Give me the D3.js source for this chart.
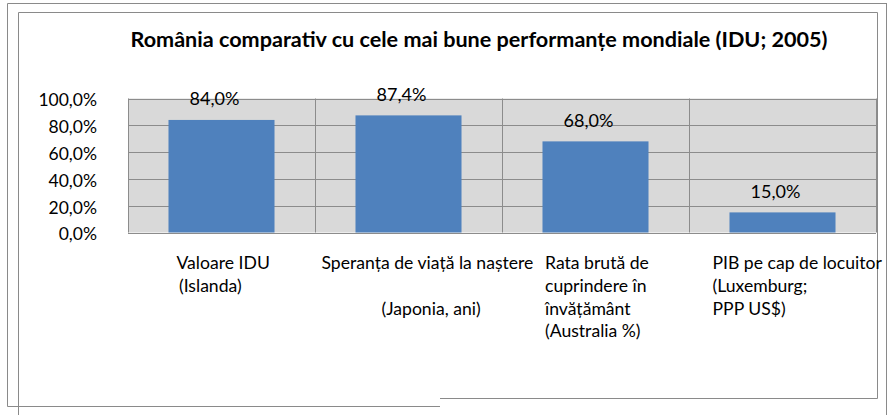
<!DOCTYPE html>
<html>
<head>
<meta charset="utf-8">
<script src="https://cdn.jsdelivr.net/npm/d3@7"></script>
<style>
  body { margin: 0; background: #fff; }
  svg { display: block; font-family: Lato, 'Open Sans', sans-serif; }
</style>
</head>
<body>
<svg id="chart" width="887" height="415"></svg>
<script>
// data
const title = 'România comparativ cu cele mai bune performanțe mondiale (IDU; 2005)';
const categories = [
  ['Valoare IDU', '(Islanda)'],
  ['Speranța de viață la naștere', '', '(Japonia, ani)'],
  ['Rata brută de', 'cuprindere în', 'învățământ', '(Australia %)'],
  ['PIB pe cap de locuitor', '(Luxemburg;', 'PPP US$)']
];
const values = [84.0, 87.4, 68.0, 15.0];
const yTicks = [0, 20, 40, 60, 80, 100];

// layout (px)
const plot = { left: 128, right: 876, top: 98.5, bottom: 232.5 };
const labelLeft = [48.5, 6.5, 43, 23.5];           // text block start inside each band
const lineIndent = [[0, 2.5], [0, 0, 60], [0, 0, 0, 0], [0, 0, 0]];
const valueShift = [-7, -7, -7, -7];

const fmt = v => d3.format('.1f')(v).replace('.', ',') + '%';

const svg = d3.select('#chart');

// page / chart frames
const frame = svg.append('g').attr('fill', 'none').attr('stroke', '#8a8a8a');
frame.append('path').attr('d', 'M7.5,406.5 V3.5 H887 M886.5,3.5 V415');
frame.append('path').attr('d', 'M7.5,406.5 H440');
frame.append('path').attr('d', 'M18.5,415 V12.5 H877.5 V398.5 H440');

const x = d3.scaleBand()
  .domain(d3.range(values.length))
  .range([plot.left, plot.right]);

const y = d3.scaleLinear()
  .domain([0, 100])
  .range([plot.bottom, plot.top]);

// plot background
svg.append('rect')
  .attr('x', plot.left)
  .attr('y', plot.top)
  .attr('width', plot.right - plot.left)
  .attr('height', plot.bottom - plot.top)
  .attr('fill', '#d9d9d9');

// horizontal gridlines
svg.append('g')
  .selectAll('line')
  .data(yTicks)
  .enter()
  .append('line')
  .attr('x1', plot.left)
  .attr('x2', plot.right)
  .attr('y1', d => Math.round(y(d)) + 0.5)
  .attr('y2', d => Math.round(y(d)) + 0.5)
  .attr('stroke', '#8c8c8c');

// vertical gridlines between categories
svg.append('g')
  .selectAll('line')
  .data(d3.range(values.length + 1))
  .enter()
  .append('line')
  .attr('x1', i => Math.round(plot.left + i * x.bandwidth()) + 0.5)
  .attr('x2', i => Math.round(plot.left + i * x.bandwidth()) + 0.5)
  .attr('y1', plot.top)
  .attr('y2', plot.bottom)
  .attr('stroke', '#8c8c8c');

// bars
const barW = x.bandwidth() * 0.567;
svg.append('g')
  .selectAll('rect')
  .data(values)
  .enter()
  .append('rect')
  .attr('x', (d, i) => x(i) + (x.bandwidth() - barW) / 2)
  .attr('y', d => y(d))
  .attr('width', barW)
  .attr('height', d => y(0) - y(d))
  .attr('fill', '#4f81bd');

// value labels
svg.append('g')
  .selectAll('text')
  .data(values)
  .enter()
  .append('text')
  .attr('x', (d, i) => x(i) + x.bandwidth() / 2 + valueShift[i])
  .attr('y', d => y(d) - 14.5)
  .attr('text-anchor', 'middle')
  .style('font-size', '18px')
  .text(fmt);

// y axis
const yAxis = svg.append('g')
  .attr('transform', `translate(${plot.left},0)`)
  .call(d3.axisLeft(y).tickValues(yTicks).tickSize(0).tickPadding(31).tickFormat(fmt));
yAxis.select('.domain').remove();
yAxis.selectAll('text')
  .attr('dy', '0.42em')
  .attr('fill', '#000')
  .style('font-size', '17.5px')
  .style('font-family', 'Lato, sans-serif');

// category labels
const cats = svg.append('g')
  .selectAll('text')
  .data(categories)
  .enter()
  .append('text')
  .style('font-size', '17.6px');

cats.each(function (lines, i) {
  const t = d3.select(this);
  lines.forEach((line, j) => {
    t.append('tspan')
      .attr('x', x(i) + labelLeft[i] + lineIndent[i][j])
      .attr('y', 269 + j * 22.8)
      .text(line);
  });
});

// title
svg.append('text')
  .attr('x', 479)
  .attr('y', 46.5)
  .attr('text-anchor', 'middle')
  .style('font-size', '21.6px')
  .style('font-weight', 'bold')
  .text(title);
</script>
</body>
</html>
